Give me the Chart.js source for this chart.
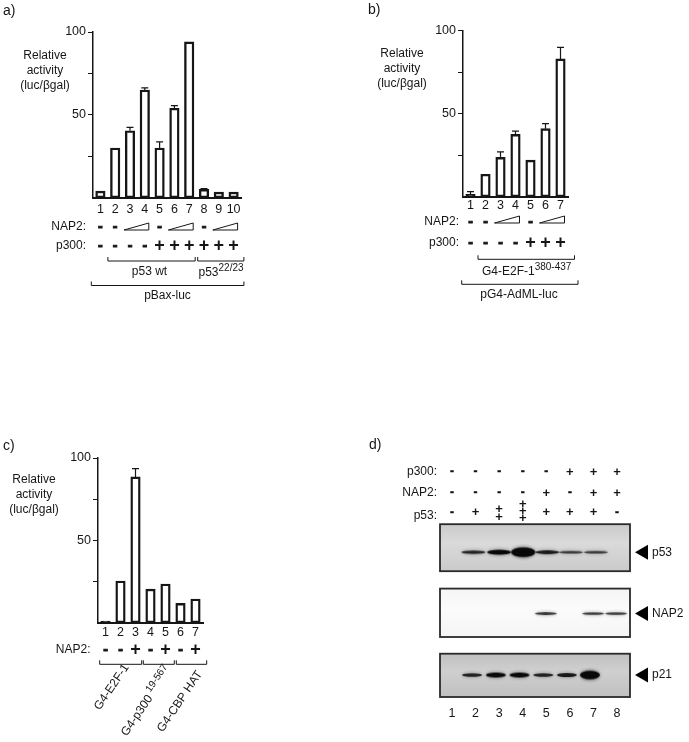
<!DOCTYPE html>
<html lang="en">
<head>
  <meta charset="UTF-8">
  <title>NAP2 and p300 activity</title>
  <style>
    html, body { margin: 0; padding: 0; background: #ffffff; }
    body { position: relative; width: 689px; height: 742px; overflow: hidden; }
    canvas { position: absolute; }
  </style>
</head>
<body>
  <canvas id="chartA" width="340" height="320" style="left:0;top:0"></canvas>
  <canvas id="chartB" width="349" height="320" style="left:340px;top:0"></canvas>
  <canvas id="chartC" width="340" height="312" style="left:0;top:430px"></canvas>
  <canvas id="chartD" width="349" height="312" style="left:340px;top:430px"></canvas>

  <script src="https://cdn.jsdelivr.net/npm/chart.js"></script>
  <script>
    // Panel a
    const lanesA = ['1', '2', '3', '4', '5', '6', '7', '8', '9', '10'];
    const valuesA = [4, 30, 40.4, 65, 30, 54, 94, 5, 3.4, 3.4];
    const errorsA = [0, 0, 2, 1.3, 3.7, 1.6, 0, 0.5, 0, 0];
    const nap2A = ['-', '-', '', '', '-', '', '', '-', '', ''];
    const p300A = ['-', '-', '-', '-', '+', '+', '+', '+', '+', '+'];

    // Panel b
    const lanesB = ['1', '2', '3', '4', '5', '6', '7'];
    const valuesB = [1.5, 13.5, 23.7, 37.5, 22, 41, 83];
    const errorsB = [1.5, 0, 3.3, 2, 0, 3, 7];
    const nap2B = ['-', '-', '', '', '-', '', ''];
    const p300B = ['-', '-', '-', '-', '+', '+', '+'];

    // Panel c
    const lanesC = ['1', '2', '3', '4', '5', '6', '7'];
    const valuesC = [1, 25.3, 88.5, 20.4, 23.5, 11.7, 14.4];
    const errorsC = [0, 0, 5, 0, 0, 0, 0];
    const nap2C = ['-', '-', '+', '-', '+', '-', '+'];

    // Axis ticks shared by a, b, c
    const yTicks = [25, 50, 75, 100];
    const yLabelled = [50, 100];

    // Panel d: blots, band position in lanes and band strength
    const lanesD = [1, 2, 3, 4, 5, 6, 7, 8];
    const p300D = ['-', '-', '-', '-', '-', '+', '+', '+'];
    const nap2D = ['-', '-', '-', '-', '+', '-', '+', '+'];
    const p53D = ['-', '+', '++', '+++', '+', '+', '+', '-'];
    const p53Lanes = [1.91, 3.0, 4.02, 5.04, 6.05, 7.1];
    const p53Bands = [22, 45, 100, 28, 14, 14];
    const nap2Lanes = [4.98, 6.99, 7.96];
    const nap2Bands = [16, 14, 14];
    const p21Lanes = [1.85, 2.86, 3.86, 4.87, 5.87, 6.85];
    const p21Bands = [24, 40, 40, 24, 30, 85];

    const FONT = '"Liberation Sans", Arial, sans-serif';
    const INK = '#161616';

    function label(ctx, str, x, y, align, size) {
      ctx.font = (size || 12) + 'px ' + FONT;
      ctx.fillStyle = INK;
      ctx.textAlign = align || 'center';
      ctx.textBaseline = 'middle';
      ctx.fillText(str, x, y);
    }

    // base text followed by a raised, smaller part
    function supLabel(ctx, base, sup, x, y, gap) {
      label(ctx, base, x, y, 'left');
      const w = ctx.measureText(base).width;
      label(ctx, sup, x + w + (gap || 0), y - 4.5, 'left', 10);
    }

    function plusMinus(ctx, mark, x, y, small) {
      ctx.fillStyle = INK;
      ctx.strokeStyle = INK;
      ctx.textAlign = 'center';
      ctx.textBaseline = 'middle';
      if (mark === '+') {
        ctx.font = 'bold ' + (small ? 13 : 18) + 'px ' + FONT;
        ctx.fillText('+', x, y);
      } else if (mark === '-') {
        ctx.font = 'bold ' + (small ? 12 : 14) + 'px ' + FONT;
        ctx.lineWidth = small ? 0.4 : 0.9;
        ctx.fillText('-', x, y);
        ctx.strokeText('-', x, y);
      }
    }

    function markRow(chart, title, titleX, y, marks) {
      const ctx = chart.ctx;
      const xs = chart.scales.x;
      label(ctx, title, titleX, y, 'right');
      marks.forEach((m, i) => plusMinus(ctx, m, xs.getPixelForValue(i), y + 0.5));
    }

    function wedge(chart, from, to, bottom) {
      const ctx = chart.ctx;
      const xs = chart.scales.x;
      const x0 = xs.getPixelForValue(from) - 6;
      const x1 = xs.getPixelForValue(to) + 4;
      ctx.beginPath();
      ctx.moveTo(x0, bottom);
      ctx.lineTo(x1, bottom);
      ctx.lineTo(x1, bottom - 7);
      ctx.closePath();
      ctx.fillStyle = '#ffffff';
      ctx.fill();
      ctx.lineWidth = 1;
      ctx.strokeStyle = INK;
      ctx.stroke();
    }

    function bracket(ctx, x0, x1, y) {
      ctx.beginPath();
      ctx.moveTo(x0, y - 4);
      ctx.lineTo(x0, y);
      ctx.lineTo(x1, y);
      ctx.lineTo(x1, y - 4);
      ctx.lineWidth = 1;
      ctx.strokeStyle = INK;
      ctx.stroke();
    }

    function yAxisTitle(ctx, x, y) {
      label(ctx, 'Relative', x, y);
      label(ctx, 'activity', x, y + 15);
      label(ctx, '(luc/βgal)', x, y + 30);
    }

    const errorBars = {
      id: 'errorBars',
      afterDatasetsDraw(chart, args, opts) {
        const ctx = chart.ctx;
        const xs = chart.scales.x;
        const ys = chart.scales.y;
        const values = chart.data.datasets[0].data;
        ctx.save();
        ctx.strokeStyle = INK;
        ctx.lineWidth = 1.2;
        opts.errors.forEach((e, i) => {
          if (!e) return;
          const x = xs.getPixelForValue(i);
          const y0 = ys.getPixelForValue(values[i]);
          const y1 = ys.getPixelForValue(values[i] + e);
          ctx.beginPath();
          ctx.moveTo(x, y0);
          ctx.lineTo(x, y1);
          ctx.moveTo(x - 3.5, y1);
          ctx.lineTo(x + 3.5, y1);
          ctx.stroke();
        });
        ctx.restore();
      }
    };

    // One bar panel. box = plot area inside the canvas
    function barPanel(id, lanes, values, errors, box, tickPad, draw) {
      const canvas = document.getElementById(id);
      const yWidth = 30;
      const xHeight = 22;
      return new Chart(canvas, {
        type: 'bar',
        data: {
          labels: lanes,
          datasets: [{
            data: values,
            // very short bars read as solid black
            backgroundColor: (c) => (c.raw < 2 ? INK : '#ffffff'),
            borderColor: INK,
            borderWidth: 2.4,
            borderSkipped: false,
            barThickness: 9.5
          }]
        },
        options: {
          responsive: false,
          animation: false,
          layout: {
            padding: {
              left: box.left - yWidth,
              right: canvas.width - box.right,
              top: box.top,
              bottom: canvas.height - box.bottom - xHeight
            }
          },
          plugins: {
            legend: { display: false },
            tooltip: { enabled: false },
            errorBars: { errors: errors }
          },
          scales: {
            x: {
              afterFit: (s) => { s.height = xHeight; },
              grid: { display: false, drawTicks: false },
              border: { color: INK, width: 2 },
              ticks: {
                color: INK,
                padding: tickPad,
                autoSkip: false,
                maxRotation: 0,
                font: { family: FONT, size: 12.5 }
              }
            },
            y: {
              min: 0,
              max: 100,
              afterFit: (s) => { s.width = yWidth; },
              afterBuildTicks: (s) => { s.ticks = yTicks.map((v) => ({ value: v })); },
              grid: { drawOnChartArea: false, color: INK, tickLength: 5, lineWidth: 1 },
              border: { color: INK, width: 1.5 },
              ticks: {
                color: INK,
                padding: 2,
                font: { family: FONT, size: 12.5 },
                callback: (v) => (yLabelled.includes(v) ? String(v) : '')
              }
            }
          }
        },
        plugins: [errorBars, { id: 'notes', afterDraw: draw }]
      });
    }

    barPanel('chartA', lanesA, valuesA, errorsA, { left: 93, right: 241, top: 32, bottom: 197.7 }, 4, (chart) => {
      const ctx = chart.ctx;
      const xs = chart.scales.x;
      label(ctx, 'a)', 3, 11, 'left', 14);
      yAxisTitle(ctx, 45, 55.5);
      markRow(chart, 'NAP2:', 86, 226.5, nap2A);
      markRow(chart, 'p300:', 86, 246, p300A);
      wedge(chart, 2, 3, 230);
      wedge(chart, 5, 6, 230);
      wedge(chart, 8, 9, 230);
      bracket(ctx, xs.getPixelForValue(1) - 7.3, xs.getPixelForValue(6) + 6, 261);
      bracket(ctx, xs.getPixelForValue(7) - 6.3, xs.getPixelForValue(9) + 10.3, 261);
      bracket(ctx, 91.3, xs.getPixelForValue(9) + 10.3, 285.5);
      label(ctx, 'p53 wt', 149.5, 272);
      supLabel(ctx, 'p53', '22/23', 198.5, 272.5);
      label(ctx, 'pBax-luc', 167.5, 296);
    });

    barPanel('chartB', lanesB, valuesB, errorsB, { left: 123, right: 228, top: 30.7, bottom: 196.7 }, 1, (chart) => {
      const ctx = chart.ctx;
      const xs = chart.scales.x;
      label(ctx, 'b)', 28, 10, 'left', 14);
      yAxisTitle(ctx, 62, 54);
      markRow(chart, 'NAP2:', 119, 221.5, nap2B);
      markRow(chart, 'p300:', 119, 242.5, p300B);
      wedge(chart, 2, 3, 223);
      wedge(chart, 5, 6, 223);
      bracket(ctx, xs.getPixelForValue(1) - 7.5, xs.getPixelForValue(6) + 14, 259.3);
      bracket(ctx, 121.7, 238, 284.3);
      supLabel(ctx, 'G4-E2F-1', '380-437', 142, 271.5);
      label(ctx, 'pG4-AdML-luc', 179, 295);
    });

    barPanel('chartC', lanesC, valuesC, errorsC, { left: 98, right: 203, top: 28, bottom: 192.7 }, 2, (chart) => {
      const ctx = chart.ctx;
      label(ctx, 'c)', 3, 16, 'left', 14);
      yAxisTitle(ctx, 34, 50);
      markRow(chart, 'NAP2:', 90.5, 219.5, nap2C);
      bracket(ctx, 99.7, 141.7, 234.3);
      bracket(ctx, 143.3, 174.3, 234.3);
      bracket(ctx, 176.3, 206.7, 234.3);
      const slanted = [
        ['G4-E2F-1', '', 97, 279],
        ['G4-p300', '19-567', 124, 305],
        ['G4-CBP HAT', '', 160, 301]
      ];
      slanted.forEach((s) => {
        ctx.save();
        ctx.translate(s[2], s[3]);
        ctx.rotate(-56 * Math.PI / 180);
        supLabel(ctx, s[0], s[1], 0, 0, 3);
        ctx.restore();
      });
    });

    // blurred band for the blot, darker and thicker with strength
    function bandSprite(strength, width) {
      const h = 1.6 + strength * 0.08;
      const c = document.createElement('canvas');
      c.width = Math.ceil(width + 12);
      c.height = Math.ceil(h + 12);
      const g = c.getContext('2d');
      // soft halo
      g.filter = 'blur(1.6px)';
      g.fillStyle = 'rgba(40,40,40,' + Math.min(0.6, 0.15 + strength / 200) + ')';
      g.beginPath();
      g.ellipse(c.width / 2, c.height / 2, width / 2, h / 2 + 1, 0, 0, Math.PI * 2);
      g.fill();
      // dark core
      g.filter = 'blur(0.5px)';
      g.fillStyle = 'rgba(8,8,8,' + Math.min(1, 0.6 + strength / 100) + ')';
      g.beginPath();
      g.ellipse(c.width / 2, c.height / 2, width / 2, h / 2, 0, 0, Math.PI * 2);
      g.fill();
      return c;
    }

    function bandSet(lanes, bands, row, width) {
      return {
        data: lanes.map((lane) => ({ x: lane, y: row })),
        pointStyle: bands.map((b) => bandSprite(b, width)),
        pointRadius: 5
      };
    }

    // offsets above / below the row centre, and the background of each blot
    const blotBoxes = [
      { row: 3, up: 28, down: 19, light: '#dadada', dark: '#cacaca' },
      { row: 2, up: 25, down: 23.4, light: '#fbfbfb', dark: '#f5f5f5' },
      { row: 1, up: 21.3, down: 22, light: '#cfcfcf', dark: '#c0c0c0' }
    ];

    const blotBackground = {
      id: 'blotBackground',
      beforeDatasetsDraw(chart) {
        const ctx = chart.ctx;
        const a = chart.chartArea;
        ctx.save();
        blotBoxes.forEach((b) => {
          const y = chart.scales.y.getPixelForValue(b.row);
          const grad = ctx.createLinearGradient(0, y - b.up, 0, y + b.down);
          grad.addColorStop(0, b.dark);
          grad.addColorStop(0.4, b.light);
          grad.addColorStop(1, b.dark);
          ctx.fillStyle = grad;
          ctx.fillRect(a.left, y - b.up, a.right - a.left, b.up + b.down);
          ctx.lineWidth = 1.8;
          ctx.strokeStyle = '#2a2a2a';
          ctx.strokeRect(a.left, y - b.up, a.right - a.left, b.up + b.down);
        });
        ctx.restore();
      }
    };

    function arrowTag(chart, row, text) {
      const ctx = chart.ctx;
      const y = chart.scales.y.getPixelForValue(row);
      ctx.beginPath();
      ctx.moveTo(308, y - 7.5);
      ctx.lineTo(308, y + 7.5);
      ctx.lineTo(295, y);
      ctx.closePath();
      ctx.fillStyle = '#000000';
      ctx.fill();
      label(ctx, text, 312, y, 'left');
    }

    new Chart(document.getElementById('chartD'), {
      type: 'scatter',
      data: {
        datasets: [
          bandSet(p53Lanes, p53Bands, 3, 24),
          bandSet(nap2Lanes, nap2Bands, 2, 22),
          bandSet(p21Lanes, p21Bands, 1, 20)
        ]
      },
      options: {
        responsive: false,
        animation: false,
        layout: { padding: { left: 100, right: 59, top: 70, bottom: 20 } },
        plugins: { legend: { display: false }, tooltip: { enabled: false } },
        scales: {
          x: {
            type: 'linear',
            min: 0.49,
            max: 8.55,
            afterFit: (s) => { s.height = 22; },
            afterBuildTicks: (s) => { s.ticks = lanesD.map((v) => ({ value: v })); },
            grid: { display: false, drawTicks: false },
            border: { display: false },
            ticks: { color: INK, padding: 6, font: { family: FONT, size: 12.5 }, callback: (v) => String(v) }
          },
          y: { type: 'linear', min: 0.593, max: 3.85, display: false }
        }
      },
      plugins: [blotBackground, {
        id: 'notes',
        afterDraw(chart) {
          const ctx = chart.ctx;
          const xs = chart.scales.x;
          label(ctx, 'd)', 29, 15, 'left', 14);
          label(ctx, 'p300:', 97, 42, 'right');
          label(ctx, 'NAP2:', 97, 63, 'right');
          label(ctx, 'p53:', 97, 86, 'right');
          lanesD.forEach((lane, i) => {
            const x = xs.getPixelForValue(lane);
            plusMinus(ctx, p300D[i], x, 42, true);
            plusMinus(ctx, nap2D[i], x, 63, true);
            const marks = p53D[i];
            if (marks === '-') plusMinus(ctx, '-', x, 83, true);
            else if (marks.length === 1) plusMinus(ctx, '+', x, 82.5, true);
            else if (marks.length === 2) [79.5, 87].forEach((y) => plusMinus(ctx, '+', x, y, true));
            else [74.5, 81, 88].forEach((y) => plusMinus(ctx, '+', x, y, true));
          });
          arrowTag(chart, 3, 'p53');
          arrowTag(chart, 2, 'NAP2');
          arrowTag(chart, 1, 'p21');
        }
      }]
    });
  </script>
</body>
</html>
